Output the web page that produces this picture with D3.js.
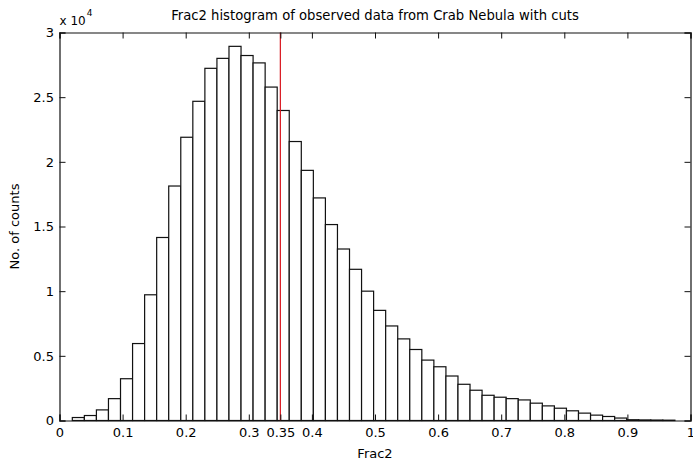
<!DOCTYPE html>
<html>
<head>
<meta charset="utf-8">
<script src="https://cdn.jsdelivr.net/npm/d3@7"></script>
<style>
html, body { margin: 0; padding: 0; background: #fff; }
text { font-family: "DejaVu Sans", sans-serif; fill: #000; }
</style>
</head>
<body>
<svg id="chart" width="693" height="463"></svg>
<script>
// ---- data ----
const binStart = 0.0203;
const binWidth = 0.0191;
const counts = [230, 385, 820, 1690, 3230, 5950, 9720, 14150, 18130, 21900,
  24680, 27230, 28000, 28930, 28220, 27650, 25780, 23970, 21570, 19340,
  17210, 15150, 13260, 11690, 10000, 8515, 7310, 6310, 5490, 4670,
  4155, 3440, 2800, 2340, 1950, 1800, 1690, 1590, 1340, 1130,
  950, 750, 570, 415, 310, 190, 60, 45, 35, 25];
const xTicks = [0, 0.1, 0.2, 0.3, 0.35, 0.4, 0.5, 0.6, 0.7, 0.8, 0.9, 1];
const xTickLabels = ["0", "0.1", "0.2", "0.3", "0.35", "0.4", "0.5", "0.6", "0.7", "0.8", "0.9", "1"];
const yTicks = [0, 5000, 10000, 15000, 20000, 25000, 30000];
const yTickLabels = ["0", "0.5", "1", "1.5", "2", "2.5", "3"];
const cutValue = 0.35;
const titleText = "Frac2 histogram of observed data from Crab Nebula with cuts";
const xLabel = "Frac2";
const yLabel = "No. of counts";

// ---- layout ----
const W = 693, H = 463;
const m = { left: 59.5, right: 2.5, top: 32.5, bottom: 42.5 };
const svg = d3.select("#chart");
const x = d3.scaleLinear().domain([0, 1]).range([m.left, W - m.right]);
const y = d3.scaleLinear().domain([0, 30000]).range([H - m.bottom, m.top]);

const bins = counts.map((c, i) => ({ x0: binStart + i * binWidth, x1: binStart + (i + 1) * binWidth, c }));

// bars
svg.append("g").selectAll("rect").data(bins).join("rect")
  .attr("x", d => x(d.x0))
  .attr("y", d => y(d.c))
  .attr("width", d => x(d.x1) - x(d.x0))
  .attr("height", d => y(0) - y(d.c))
  .attr("fill", "#fff")
  .attr("stroke", "#111")
  .attr("stroke-width", 1.2);

// cut line
svg.append("line")
  .attr("x1", x(cutValue)).attr("x2", x(cutValue))
  .attr("y1", y(30000)).attr("y2", y(0))
  .attr("stroke", "#d8141c").attr("stroke-width", 1.2);

// axes (MATLAB style: inward ticks, box)
const tickLen = 6;
const axB = d3.axisBottom(x).tickValues(xTicks).tickSize(-tickLen).tickPadding(7.5)
  .tickFormat((d, i) => xTickLabels[i]);
const axT = d3.axisTop(x).tickValues(xTicks).tickSize(-tickLen).tickFormat("");
const axL = d3.axisLeft(y).tickValues(yTicks).tickSize(-tickLen).tickPadding(5.5)
  .tickFormat((d, i) => yTickLabels[i]);
const axR = d3.axisRight(y).tickValues(yTicks).tickSize(-tickLen).tickFormat("");

function style(g) {
  g.select(".domain").attr("stroke", "#111").attr("stroke-width", 1.2);
  g.selectAll(".tick line").attr("stroke", "#111").attr("stroke-width", 1);
  g.selectAll(".tick text").attr("font-size", 13).attr("font-family", "DejaVu Sans, sans-serif").attr("fill", "#000");
}
svg.append("g").attr("transform", `translate(0,${y(0)})`).call(axB).call(style);
svg.append("g").attr("transform", `translate(0,${y(30000)})`).call(axT).call(style);
svg.append("g").attr("transform", `translate(${x(0)},0)`).call(axL).call(style);
svg.append("g").attr("transform", `translate(${x(1)},0)`).call(axR).call(style);

// exponent label
const ex = svg.append("text").attr("x", m.left).attr("y", 24.5).attr("font-size", 12);
ex.append("tspan").text("x 10");
ex.append("tspan").attr("dy", -8.5).attr("dx", 1).attr("font-size", 9).text("4");

// title
svg.append("text").attr("x", (x(0) + x(1)) / 2).attr("y", 20)
  .attr("text-anchor", "middle").attr("font-size", 13.2).text(titleText);

// x label
svg.append("text").attr("x", (x(0) + x(1)) / 2).attr("y", 458)
  .attr("text-anchor", "middle").attr("font-size", 13).text(xLabel);

// y label
svg.append("text").attr("transform", `translate(19,${(y(0) + y(30000)) / 2}) rotate(-90)`)
  .attr("text-anchor", "middle").attr("font-size", 13).text(yLabel);
</script>
</body>
</html>
